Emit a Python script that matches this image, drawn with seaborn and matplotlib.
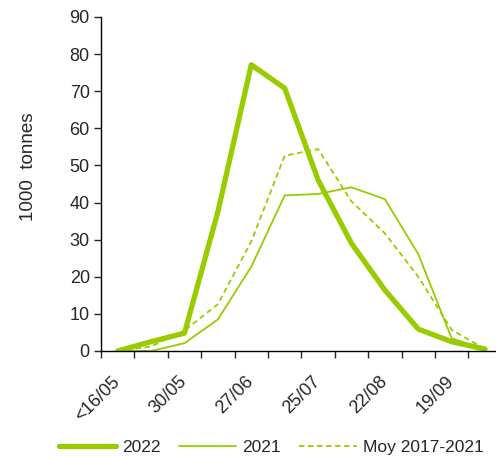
import seaborn as sns
import matplotlib.pyplot as plt
import matplotlib.transforms as mtransforms
import numpy as np

# fortnightly periods, label shown every other one
periods = ['<16/05', '16/05', '30/05', '13/06', '27/06', '11/07',
           '25/07', '08/08', '22/08', '05/09', '19/09', '03/10']
shown_labels = ['<16/05', '30/05', '27/06', '25/07', '22/08', '19/09']

y2022 = [0, 2.5, 4.8, 37.5, 77.1, 70.8, 46.1, 29.0, 16.4, 5.9, 2.5, 0.5]
y2021 = [0, 0, 2.1, 8.5, 22.7, 41.9, 42.3, 44.1, 40.9, 26.1, 3.4, 0.5]
ymoy = [0, 1.2, 5.5, 12.6, 29.5, 52.6, 54.4, 40.3, 31.7, 20.0, 5.7, 0.5]

green = '#99CC00'

sns.set_style('ticks')
plt.rcParams['font.family'] = ['Liberation Sans', 'DejaVu Sans']

fig = plt.figure(figsize=(4.96, 4.57), dpi=100)
ax = fig.add_axes([0.2036, 0.232, 0.808, 0.731])

x = np.arange(len(periods))
sns.lineplot(x=x, y=y2022, ax=ax, color=green, lw=3.8, label='2022')
sns.lineplot(x=x, y=y2021, ax=ax, color=green, lw=1.3, label='2021')
sns.lineplot(x=x, y=ymoy, ax=ax, color=green, lw=1.3, linestyle=(0, (3, 2)),
             label='Moy 2017-2021')

ax.set_xlim(-0.5, len(periods) - 0.5)
ax.set_ylim(0, 90)
ax.set_yticks(range(0, 91, 10))
ax.tick_params(axis='y', labelsize=13, length=5, width=1, direction='out', pad=3)

# labels under every other period, tick marks at category edges
ax.set_xticks(x[::2])
ax.set_xticklabels(shown_labels, rotation=45, ha='right', rotation_mode='anchor')
ax.tick_params(axis='x', which='major', length=0, labelsize=13, pad=16)
shift = mtransforms.ScaledTranslation(-6 / 100, 0, fig.dpi_scale_trans)
for lbl in ax.get_xticklabels():
    lbl.set_transform(lbl.get_transform() + shift)
ax.set_xticks(np.arange(-0.5, len(periods), 1), minor=True)
ax.tick_params(axis='x', which='minor', length=5, width=1, direction='out')

for s in ['top', 'right']:
    ax.spines[s].set_visible(False)
for s in ['left', 'bottom']:
    ax.spines[s].set_color('black')
    ax.spines[s].set_linewidth(1)

ax.set_ylabel('1000  tonnes', fontsize=13.5)
ax.yaxis.set_label_coords(-0.16, 0.551)

ax.legend(loc='center', bbox_to_anchor=(0.425, -0.29), ncol=3,
          frameon=False, fontsize=12.5, handlelength=3.3, columnspacing=1.05,
          handletextpad=0.35)

fig.savefig('out.png', dpi=100)
